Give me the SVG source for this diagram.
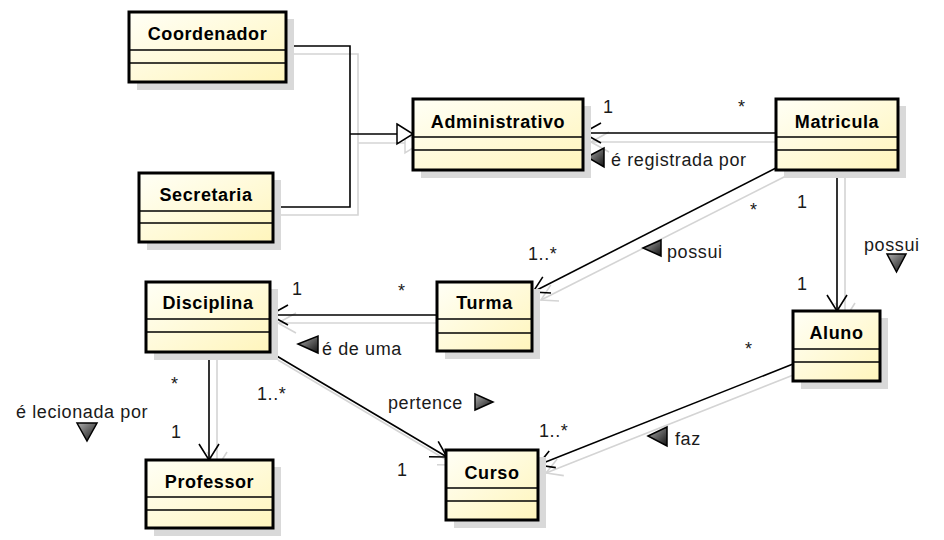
<svg xmlns="http://www.w3.org/2000/svg" width="944" height="540" viewBox="0 0 944 540">
<defs>
<linearGradient id="boxfill" x1="0" y1="0" x2="1" y2="1">
<stop offset="0" stop-color="#FFFFF6"/>
<stop offset="1" stop-color="#FFF5BC"/>
</linearGradient>
<linearGradient id="trifill" x1="0" y1="0" x2="1" y2="1">
<stop offset="0" stop-color="#B0B0B0"/>
<stop offset="1" stop-color="#101010"/>
</linearGradient>
<style>
.shadow{fill:#D9D9D9;stroke:none}
.box{fill:url(#boxfill);stroke:#000;stroke-width:3}
.div{stroke:#000;stroke-width:1.5;fill:none}
.name{font-family:"Liberation Sans",Arial,sans-serif;font-size:18px;font-weight:bold;fill:#000;text-anchor:middle;letter-spacing:0.6px}
.lbl{font-family:"Liberation Sans",Arial,sans-serif;font-size:18px;fill:#1a1a1a;letter-spacing:0.6px}
.ln{stroke:#000;stroke-width:1.6;fill:none}
.sh{stroke:#D4D4D4;stroke-width:1.6;fill:none}
.tri{fill:url(#trifill);stroke:#000;stroke-width:1.5}
</style>
</defs>
<rect width="944" height="540" fill="#FFFFFF"/>

<g id="connectors">
<!-- shadows -->
<polyline class="sh" points="286,54 358,54 358,215 273,215"/>
<line class="sh" x1="358" y1="143" x2="405" y2="143"/>
<polygon points="405,133 421,143 405,153" fill="#FFFFFF" stroke="#D4D4D4" stroke-width="1.5"/>
<line class="sh" x1="591" y1="142" x2="786" y2="142"/>
<polyline class="sh" points="609,132 591,142 609,152"/>
<line class="sh" x1="786" y1="176" x2="541" y2="300"/>
<polyline class="sh" points="550.8,284.9 541,300 559,301"/>
<line class="sh" x1="845" y1="178" x2="845" y2="319"/>
<polyline class="sh" points="835,303 845,319 855,303"/>
<line class="sh" x1="278" y1="323" x2="445" y2="323"/>
<polyline class="sh" points="296,313 278,323 296,333"/>
<line class="sh" x1="217" y1="360" x2="217" y2="468"/>
<polyline class="sh" points="207,452 217,468 227,452"/>
<line class="sh" x1="278" y1="360" x2="455" y2="465"/>
<polyline class="sh" points="446.2,449.3 455,465 437,464.8"/>
<line class="sh" x1="801" y1="372" x2="546" y2="473"/>
<polyline class="sh" points="557.2,458.9 546,473 563.8,475.6"/>

<!-- generalization -->
<polyline class="ln" points="286,46 350,46 350,207 273,207"/>
<line class="ln" x1="350" y1="134" x2="397" y2="134"/>
<polygon points="397,124 413,134 397,144" fill="#FFFFFF" stroke="#000" stroke-width="1.5"/>

<!-- Matricula -> Administrativo -->
<line class="ln" x1="776" y1="133" x2="583" y2="133"/>
<polyline class="ln" points="601,123 583,133 601,143"/>
<!-- Matricula -> Turma -->
<line class="ln" x1="776" y1="168" x2="533" y2="292"/>
<polyline class="ln" points="542.8,276.9 533,292 551,293"/>
<!-- Matricula -> Aluno -->
<line class="ln" x1="837" y1="170" x2="837" y2="311"/>
<polyline class="ln" points="827,295 837,311 847,295"/>
<!-- Turma -> Disciplina -->
<line class="ln" x1="437" y1="315" x2="270" y2="315"/>
<polyline class="ln" points="288,305 270,315 288,325"/>
<!-- Disciplina -> Professor -->
<line class="ln" x1="209" y1="352" x2="209" y2="460"/>
<polyline class="ln" points="199,444 209,460 219,444"/>
<!-- Disciplina -> Curso -->
<line class="ln" x1="270" y1="352" x2="447" y2="457"/>
<polyline class="ln" points="438.2,441.3 447,457 429,456.8"/>
<!-- Aluno -> Curso -->
<line class="ln" x1="793" y1="364" x2="538" y2="465"/>
<polyline class="ln" points="549.2,450.9 538,465 555.8,467.6"/>

<!-- labels -->
<text class="lbl" x="603" y="113">1</text>
<text class="lbl" x="738" y="113">*</text>
<polygon class="tri" points="587,157 604,148 604,167"/>
<text class="lbl" x="611" y="166">é registrada por</text>

<text class="lbl" x="750" y="216">*</text>
<text class="lbl" x="528" y="260">1..*</text>
<polygon class="tri" points="643,248 661,240 661,256"/>
<text class="lbl" x="667" y="258">possui</text>

<text class="lbl" x="797" y="208">1</text>
<text class="lbl" x="864" y="251">possui</text>
<polygon class="tri" points="887,254 906,254 896.5,272"/>
<text class="lbl" x="797" y="290">1</text>

<text class="lbl" x="745" y="355">*</text>
<text class="lbl" x="539" y="437">1..*</text>
<polygon class="tri" points="648,436 667,427 667,446"/>
<text class="lbl" x="675" y="445">faz</text>

<text class="lbl" x="292" y="295">1</text>
<text class="lbl" x="398" y="297">*</text>
<polygon class="tri" points="298,344 318,336 318,353"/>
<text class="lbl" x="322" y="355">é de uma</text>

<text class="lbl" x="171" y="390">*</text>
<text class="lbl" x="257" y="400">1..*</text>
<text class="lbl" x="388" y="409">pertence</text>
<polygon class="tri" points="475,394 493,402 475,410"/>

<text class="lbl" x="171" y="438">1</text>
<text class="lbl" x="16" y="418">é lecionada por</text>
<polygon class="tri" points="77,423 97,423 87,441"/>
<text class="lbl" x="397" y="476">1</text>
</g>

<g id="Coordenador">
<rect class="shadow" x="137" y="19" width="157" height="71"/>
<rect class="box" x="129" y="12" width="157" height="70"/>
<line class="div" x1="129" y1="50" x2="286" y2="50"/>
<line class="div" x1="129" y1="63" x2="286" y2="63"/>
<text class="name" x="207.5" y="40">Coordenador</text>
</g>
<g id="Secretaria">
<rect class="shadow" x="147" y="180" width="134" height="70"/>
<rect class="box" x="139" y="173" width="134" height="69"/>
<line class="div" x1="139" y1="211" x2="273" y2="211"/>
<line class="div" x1="139" y1="223" x2="273" y2="223"/>
<text class="name" x="206" y="201">Secretaria</text>
</g>
<g id="Administrativo">
<rect class="shadow" x="421" y="106" width="170" height="72"/>
<rect class="box" x="413" y="99" width="170" height="71"/>
<line class="div" x1="413" y1="137" x2="583" y2="137"/>
<line class="div" x1="413" y1="150" x2="583" y2="150"/>
<text class="name" x="498" y="128">Administrativo</text>
</g>
<g id="Matricula">
<rect class="shadow" x="784" y="106" width="122" height="72"/>
<rect class="box" x="776" y="99" width="122" height="71"/>
<line class="div" x1="776" y1="137" x2="898" y2="137"/>
<line class="div" x1="776" y1="150" x2="898" y2="150"/>
<text class="name" x="837" y="128">Matricula</text>
</g>
<g id="Turma">
<rect class="shadow" x="445" y="289" width="95" height="70"/>
<rect class="box" x="437" y="282" width="95" height="69"/>
<line class="div" x1="437" y1="319" x2="532" y2="319"/>
<line class="div" x1="437" y1="333" x2="532" y2="333"/>
<text class="name" x="484.5" y="309">Turma</text>
</g>
<g id="Disciplina">
<rect class="shadow" x="154" y="289" width="124" height="71"/>
<rect class="box" x="146" y="282" width="124" height="70"/>
<line class="div" x1="146" y1="319" x2="270" y2="319"/>
<line class="div" x1="146" y1="332" x2="270" y2="332"/>
<text class="name" x="208" y="309">Disciplina</text>
</g>
<g id="Aluno">
<rect class="shadow" x="801" y="318" width="87" height="71"/>
<rect class="box" x="793" y="311" width="87" height="70"/>
<line class="div" x1="793" y1="349" x2="880" y2="349"/>
<line class="div" x1="793" y1="362" x2="880" y2="362"/>
<text class="name" x="836.5" y="339">Aluno</text>
</g>
<g id="Professor">
<rect class="shadow" x="154" y="467" width="127" height="69"/>
<rect class="box" x="146" y="460" width="127" height="68"/>
<line class="div" x1="146" y1="497" x2="273" y2="497"/>
<line class="div" x1="146" y1="510" x2="273" y2="510"/>
<text class="name" x="209.5" y="488">Professor</text>
</g>
<g id="Curso">
<rect class="shadow" x="454" y="457" width="92" height="71"/>
<rect class="box" x="446" y="450" width="92" height="70"/>
<line class="div" x1="446" y1="488" x2="538" y2="488"/>
<line class="div" x1="446" y1="501" x2="538" y2="501"/>
<text class="name" x="492" y="479">Curso</text>
</g>
</svg>
